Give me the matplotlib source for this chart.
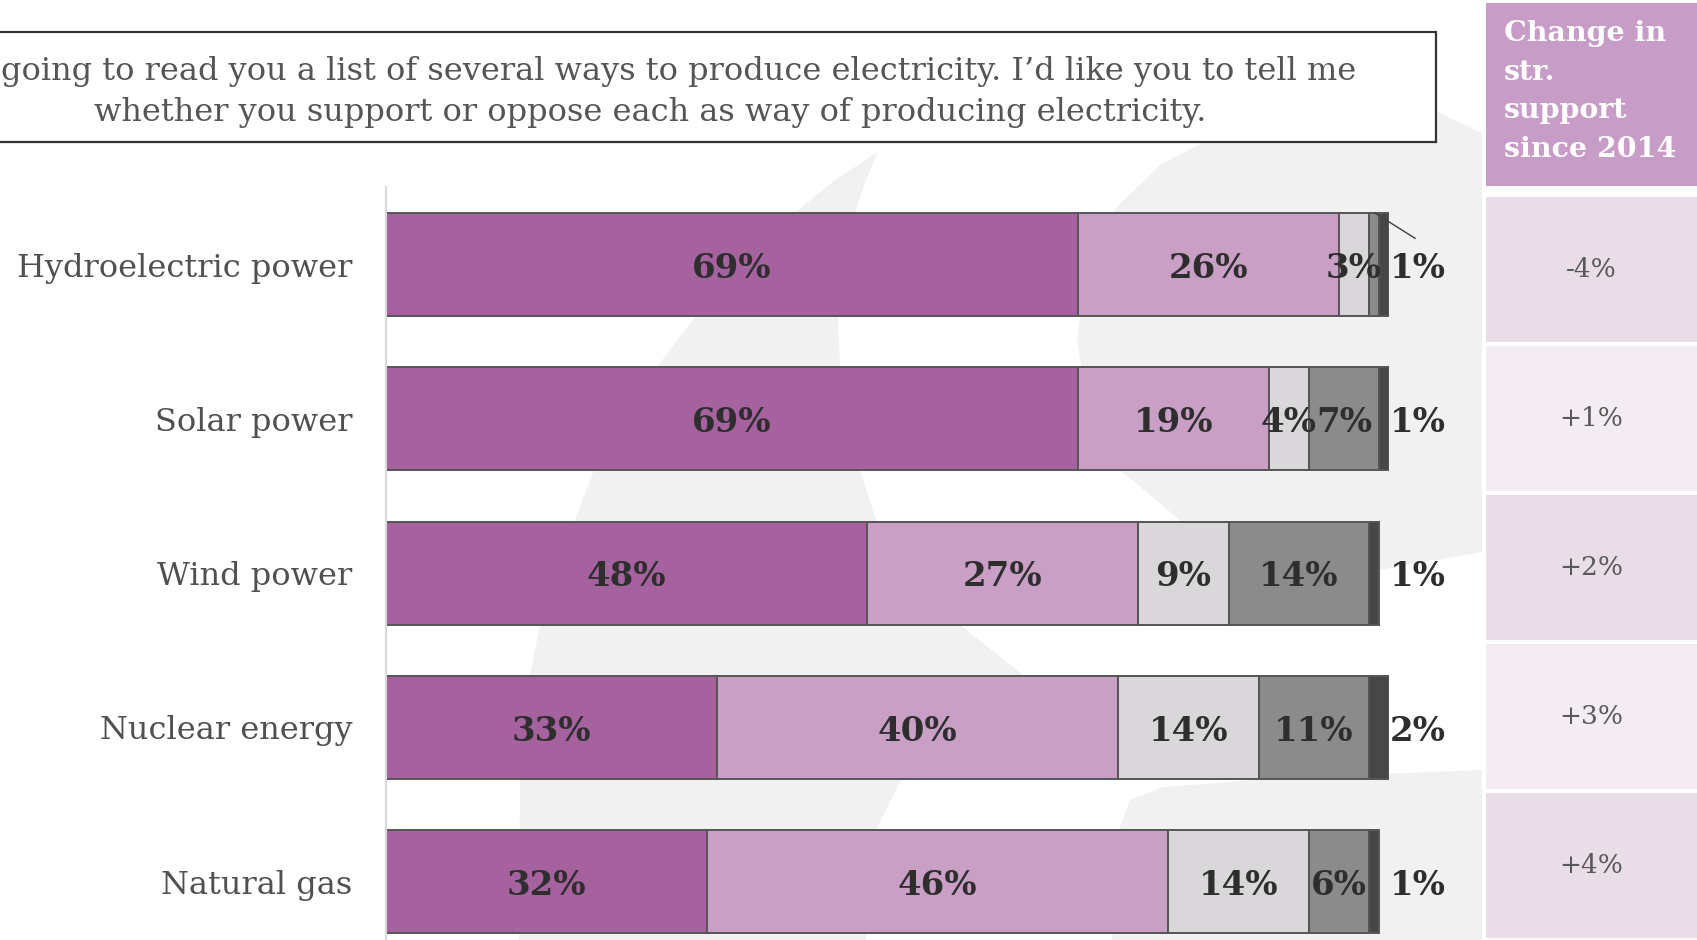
import numpy as np
import matplotlib.pyplot as plt
from matplotlib.patches import Polygon, Rectangle

plt.rcParams['font.family'] = ['DejaVu Serif']

# data
categories = ['Hydroelectric power', 'Solar power', 'Wind power', 'Nuclear energy', 'Natural gas']
strongly_support = [69, 69, 48, 33, 32]
somewhat_support = [26, 19, 27, 40, 46]
somewhat_oppose = [3, 4, 9, 14, 14]
strongly_oppose = [1, 7, 14, 11, 6]
dont_know = [1, 1, 1, 2, 1]
change_since_2014 = ['-4%', '+1%', '+2%', '+3%', '+4%']

# the start of the question is cut off in the source slide
title_line1 = "going to read you a list of several ways to produce electricity. I\u2019d like you to tell me"
title_line2 = "whether you support or oppose each as way of producing electricity."
panel_header = "Change in\nstr.\nsupport\nsince 2014"

colors = ['#a5629f', '#c99fc6', '#d9d7d9', '#8c8b8c', '#474747']

W, H = 1697, 940
fig = plt.figure(figsize=(W / 100, H / 100), dpi=100)

# background layer in pixel coords (watermark shape + question box)
bg = fig.add_axes([0, 0, 1, 1])
bg.set_xlim(0, W)
bg.set_ylim(H, 0)
bg.axis('off')

shape_left = [(878, 152), (835, 180), (796, 212), (760, 245), (730, 278), (695, 317), (657, 367),
              (625, 415), (594, 470), (575, 520), (555, 575), (540, 625), (530, 675), (524, 730),
              (520, 780), (519, 940), (866, 940), (868, 880), (876, 830), (901, 780), (960, 730),
              (1023, 675), (960, 625), (920, 580), (876, 520), (860, 470), (848, 420), (840, 367),
              (838, 317), (842, 260), (855, 212), (866, 180)]
shape_top = [(1117, 207), (1160, 165), (1233, 127), (1333, 107), (1433, 110), (1482, 133),
             (1482, 552), (1380, 570), (1250, 552), (1180, 520), (1120, 470), (1090, 420),
             (1077, 340), (1085, 280), (1100, 240)]
shape_bottom = [(1112, 940), (1119, 830), (1130, 800), (1163, 787), (1280, 778), (1482, 770),
                (1482, 940)]
for pts in (shape_left, shape_top, shape_bottom):
    bg.add_patch(Polygon(pts, closed=True, facecolor='#f1f1f1', edgecolor='none', zorder=0))

bg.add_patch(Rectangle((-20, 32), 1456, 110, facecolor='white', edgecolor='#333333',
                       linewidth=1.6, zorder=2))
bg.text(1356, 80, title_line1, ha='right', va='baseline', fontsize=23, color='#555555', zorder=3)
bg.text(650, 121, title_line2, ha='center', va='baseline', fontsize=23, color='#555555', zorder=3)

# stacked bars
ax = fig.add_axes([386 / W, 0, 1003 / W, (H - 187.4) / H])
ax.set_facecolor('none')
y = np.arange(len(categories))
bar_h = 0.668
series = [strongly_support, somewhat_support, somewhat_oppose, strongly_oppose, dont_know]
left = np.zeros(len(categories))
for k, (vals, c) in enumerate(zip(series, colors)):
    vals = np.array(vals, dtype=float)
    ax.barh(y, vals, left=left, height=bar_h, color=c, edgecolor='#555555', linewidth=1.4, zorder=2)
    if k < 4:
        for i, v in enumerate(vals):
            if k == 3 and v < 2:
                continue
            ax.text(left[i] + v / 2, y[i] + 0.025, f'{int(v)}%', ha='center', va='center',
                    fontsize=24.5, fontweight='bold', color='#2e2e2e', zorder=3)
    left += vals

for i, v in enumerate(dont_know):
    ax.text(102.9, y[i] + 0.025, f'{v}%', ha='center', va='center', fontsize=24.5,
            fontweight='bold', color='#2e2e2e', clip_on=False, zorder=3)
    if strongly_oppose[i] < 2:
        x0 = strongly_support[i] + somewhat_support[i] + somewhat_oppose[i] + 0.6
        ax.plot([x0, 102.6], [y[i] - bar_h / 2, y[i] - 0.17], color='#404040', lw=1,
                clip_on=False, zorder=3)

ax.set_xlim(0, 100)
ax.set_ylim(4.379, -0.5)
ax.set_yticks(y, categories)
ax.set_xticks([])
ax.tick_params(axis='y', length=0, pad=24, labelsize=23, labelcolor='#505050')
for lbl in ax.get_yticklabels():
    lbl.set_va('center_baseline')
for s in ['top', 'right', 'bottom']:
    ax.spines[s].set_visible(False)
ax.spines['left'].set_color('#d9d9d9')
ax.spines['left'].set_linewidth(1.5)

# right panel: change in strong support
pax = fig.add_axes([1486 / W, 0, (W - 1486) / W, (H - 3) / H])
pax.set_xlim(0, 1)
pax.set_ylim(4.5, -1.7886)
pax.axis('off')
cell_colors = ['#e9dde8' if i % 2 == 0 else '#f3edf3' for i in range(len(categories))]
pax.barh(y, 1, left=0, height=0.975, color=cell_colors, edgecolor='none')
pax.add_patch(Rectangle((0, -1.7886), 1, 1.2282, facecolor='#c79cc6', edgecolor='none'))
pax.text(0.085, -1.675, panel_header, ha='left', va='top', fontsize=20.5, fontweight='bold',
         color='white', linespacing=1.56)
for i, t in enumerate(change_since_2014):
    pax.text(0.5, y[i], t, ha='center', va='center', fontsize=19, color='#595959')

fig.savefig('out.png', dpi=100)
